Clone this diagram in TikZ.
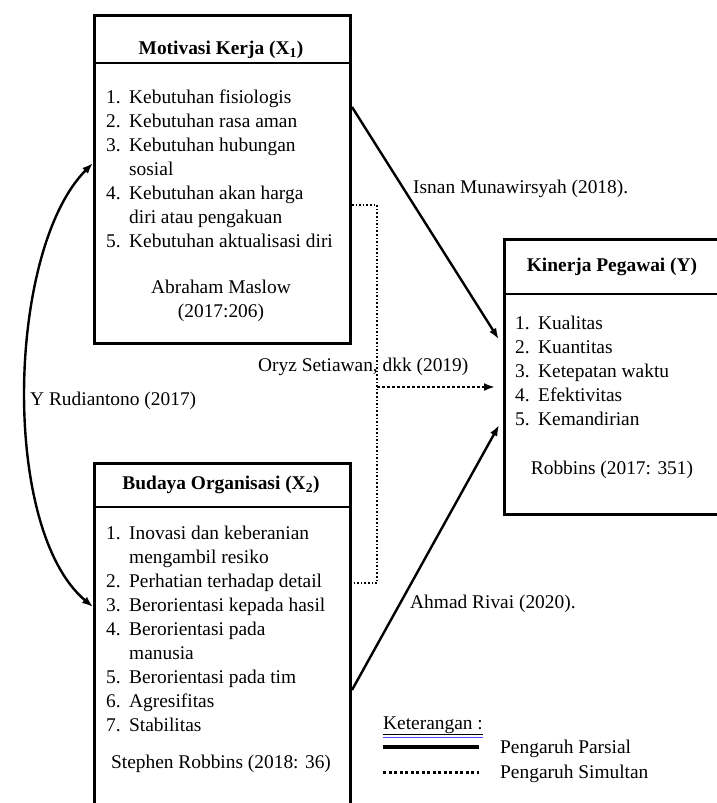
\documentclass[tikz,border=0pt]{standalone}
\usepackage{fontspec}
\setmainfont{Liberation Serif}
\usetikzlibrary{arrows.meta,positioning}

\begin{document}
\begin{tikzpicture}[
    x=1pt, y=-1pt,
    every node/.style={font=\fontsize{19.4}{24}\selectfont, inner sep=0pt},
    frame/.style={draw, line width=3pt, anchor=north west},
    divider/.style={line width=1.6pt},
    title/.style={font=\fontsize{19.4}{24}\selectfont\bfseries, anchor=base},
    list/.style={anchor=base west},
    source/.style={anchor=base},
    label/.style={anchor=base west},
    arrow/.style={line width=2.4pt, -{Latex[length=11pt,width=8pt]}, shorten >=8pt},
    both/.style={line width=2.4pt, {Latex[length=11pt,width=8pt]}-{Latex[length=11pt,width=8pt]}},
    simul/.style={line width=1.6pt, dash pattern=on 1.6pt off 2pt},
    simularrow/.style={line width=2.6pt, dash pattern=on 2.6pt off 2.4pt, -{Latex[length=11pt,width=8pt]}, shorten >=8pt}
]
\useasboundingbox (0,0) rectangle (716,803);

% Boxes
\node[frame, minimum width=256pt, minimum height=328pt] (mot) at (93,14) {};
\node[frame, minimum width=256pt, minimum height=380pt] (bud) at (93,462) {};
\node[frame, minimum width=218pt, minimum height=275pt] (kin) at (503,238) {};

\draw[divider] ([yshift=-49pt]mot.north west) -- ([yshift=-49pt]mot.north east);
\draw[divider] ([yshift=-45pt]bud.north west) -- ([yshift=-45pt]bud.north east);
\draw[divider] ([yshift=-56pt]kin.north west) -- ([yshift=-56pt]kin.north east);

% Titles
\node[title] (motTitle) at (221,54) {Motivasi Kerja (X\textsubscript{1})};
\node[title] (budTitle) at (221,489) {Budaya Organisasi (X\textsubscript{2})};
\node[title] (kinTitle) at (612,271) {Kinerja Pegawai (Y)};

% Indicators
\node[list] (motList) at (106,103.5) {\begin{tabular}[t]{@{}p{23pt}@{}l@{}}
1. & Kebutuhan fisiologis\\
2. & Kebutuhan rasa aman\\
3. & Kebutuhan hubungan\\
   & sosial\\
4. & Kebutuhan akan harga\\
   & diri atau pengakuan\\
5. & Kebutuhan aktualisasi diri
\end{tabular}};
\node[list] (budList) at (106,539.5) {\begin{tabular}[t]{@{}p{23pt}@{}l@{}}
1. & Inovasi dan keberanian\\
   & mengambil resiko\\
2. & Perhatian terhadap detail\\
3. & Berorientasi kepada hasil\\
4. & Berorientasi pada\\
   & manusia\\
5. & Berorientasi pada tim\\
6. & Agresifitas\\
7. & Stabilitas
\end{tabular}};
\node[list] (kinList) at (515,329.5) {\begin{tabular}[t]{@{}p{23pt}@{}l@{}}
1. & Kualitas\\
2. & Kuantitas\\
3. & Ketepatan waktu\\
4. & Efektivitas\\
5. & Kemandirian
\end{tabular}};

% Sources
\node[source] (motSrc) at (221,293.5) {\begin{tabular}[t]{@{}c@{}}Abraham Maslow\\(2017:206)\end{tabular}};
\node[source] (budSrc) at (221,768.5) {Stephen Robbins (2018: 36)};
\node[source] (kinSrc) at (612,474.5) {Robbins (2017: 351)};

% Path labels
\node[label] (isnan) at (413,193) {Isnan Munawirsyah (2018).};
\node[label] (oryz) at (258,371) {Oryz Setiawan, dkk (2019)};
\node[label] (rudi) at (30,405) {Y Rudiantono (2017)};
\node[label] (rivai) at (410,608) {Ahmad Rivai (2020).};

% Partial paths
\draw[arrow] ([yshift=-93pt]mot.north east) -- ([yshift=-108pt]kin.north west);
\draw[arrow] ([yshift=-228pt]bud.north east) -- ([yshift=-180pt]kin.north west);
\draw[both] ([yshift=-149pt]mot.north west) .. controls +(-86,86) and +(-93,-78) .. ([yshift=-145pt]bud.north west);

% Simultaneous path
\coordinate (join) at (377,387);
\draw[simul] ([yshift=-191pt]mot.north east) -| (join) |- ([yshift=-121pt]bud.north east);
\draw[simularrow] (join) -- ([yshift=-149pt]kin.north west);

% Legend
\node[label] (ket) at (383,729) {\underline{Keterangan :}};
\draw[blue!70, line width=0.8pt] ([yshift=-2pt]ket.south west) -- ([yshift=-2pt]ket.south east);
\coordinate (parA) at (383,747);
\coordinate (parB) at (479,747);
\coordinate (simA) at (383,772);
\coordinate (simB) at (479,772);
\draw[line width=3.5pt] (parA) -- (parB);
\draw[line width=3pt, dash pattern=on 3pt off 2.5pt] (simA) -- (simB);
\node[label] (par) at (500,753) {Pengaruh Parsial};
\node[label] (sim) at (500,778) {Pengaruh Simultan};

\end{tikzpicture}
\end{document}
